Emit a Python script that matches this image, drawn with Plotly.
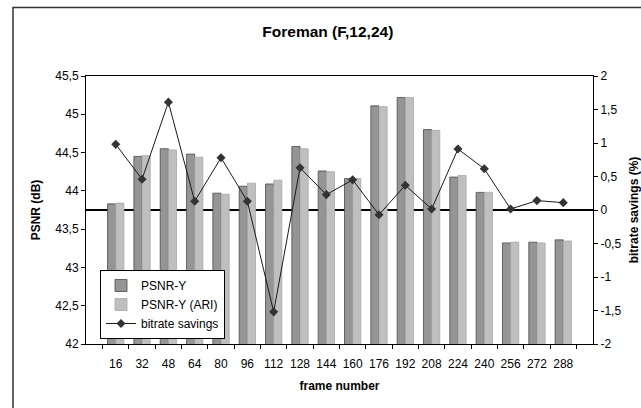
import plotly.graph_objects as go

frames = ["16", "32", "48", "64", "80", "96", "112", "128", "144", "160",
          "176", "192", "208", "224", "240", "256", "272", "288"]
psnr_y = [43.83, 44.45, 44.55, 44.48, 43.97, 44.06, 44.09, 44.58, 44.26, 44.16,
          45.11, 45.22, 44.80, 44.18, 43.98, 43.32, 43.33, 43.36]
psnr_y_ari = [43.84, 44.46, 44.535, 44.44, 43.955, 44.10, 44.14, 44.55, 44.25, 44.16,
              45.10, 45.22, 44.79, 44.20, 43.98, 43.33, 43.32, 43.345]
bitrate_savings = [0.98, 0.46, 1.61, 0.13, 0.78, 0.13, -1.52, 0.63, 0.23, 0.45,
                   -0.07, 0.37, 0.015, 0.91, 0.615, 0.015, 0.14, 0.11]

left_ticks = [42, 42.5, 43, 43.5, 44, 44.5, 45, 45.5]
left_labels = ["42", "42,5", "43", "43,5", "44", "44,5", "45", "45,5"]
right_ticks = [-2, -1.5, -1, -0.5, 0, 0.5, 1, 1.5, 2]
right_labels = ["-2", "-1,5", "-1", "-0,5", "0", "0,5", "1", "1,5", "2"]

FONT = "Liberation Sans, Arial, sans-serif"

fig = go.Figure()
fig.add_trace(go.Bar(
    x=frames, y=psnr_y, name="PSNR-Y",
    marker=dict(color="#959595", line=dict(color="#4a4a4a", width=0.8)),
))
fig.add_trace(go.Bar(
    x=frames, y=psnr_y_ari, name="PSNR-Y (ARI)",
    marker=dict(color="#bfbfbf", line=dict(color="#a8a8a8", width=0.8)),
))
fig.add_trace(go.Scatter(
    x=frames, y=bitrate_savings, name="bitrate savings", yaxis="y2",
    mode="lines+markers",
    line=dict(color="#1a1a1a", width=1),
    marker=dict(symbol="diamond", size=7, color="#333333"),
))

fig.update_layout(
    width=641, height=408,
    margin=dict(l=86, r=48, t=76, b=64, autoexpand=False),
    paper_bgcolor="white", plot_bgcolor="white",
    font=dict(family=FONT, size=12, color="#000000"),
    barmode="group", bargap=0.38, bargroupgap=0,
    showlegend=True,
    title=dict(text="<b>Foreman (F,12,24)</b>", x=0.477, xref="paper",
               xanchor="center", y=1 - 32 / 408, yanchor="middle",
               font=dict(size=15.5, family=FONT)),
    xaxis=dict(
        type="category", showline=True, linecolor="#000", linewidth=1,
        mirror=True, ticks="outside", ticklen=4, tickcolor="#000",
        tickson="boundaries", showgrid=False, ticklabelstandoff=9,
        tickangle=0, automargin=False,
        title=dict(text="<b>frame number</b>", font=dict(size=12), standoff=11),
        tickfont=dict(size=12),
    ),
    yaxis=dict(
        range=[42, 45.5], tickvals=left_ticks, ticktext=left_labels,
        showline=True, linecolor="#000", linewidth=1, ticks="outside",
        ticklen=4, tickcolor="#000", showgrid=False, zeroline=False,
        automargin=False,
        title=dict(text="<b>PSNR (dB)</b>", font=dict(size=12), standoff=12),
        tickfont=dict(size=12),
    ),
    yaxis2=dict(
        range=[-2, 2], tickvals=right_ticks, ticktext=right_labels,
        overlaying="y", side="right", showline=True, linecolor="#000",
        linewidth=1, ticks="outside", ticklen=4, tickcolor="#000",
        showgrid=False, zeroline=True, zerolinecolor="#000", zerolinewidth=2,
        automargin=False,
        title=dict(text="<b>bitrate savings (%)</b>", font=dict(size=12), standoff=12),
        tickfont=dict(size=12),
    ),
    legend=dict(
        x=(100 - 86) / 507, y=(344 - 270) / 268, xanchor="left", yanchor="top",
        bordercolor="#000", borderwidth=1, bgcolor="white",
        font=dict(size=12, family=FONT), tracegroupgap=0,
    ),
    shapes=[dict(
        type="rect", xref="paper", yref="paper",
        x0=(13 - 86) / 507, x1=(650 - 86) / 507,
        y0=(344 - 420) / 268, y1=(344 - 7.5) / 268,
        line=dict(color="#333", width=1.5), fillcolor="rgba(0,0,0,0)",
        layer="below",
    )],
)

fig.write_html("out.html")
